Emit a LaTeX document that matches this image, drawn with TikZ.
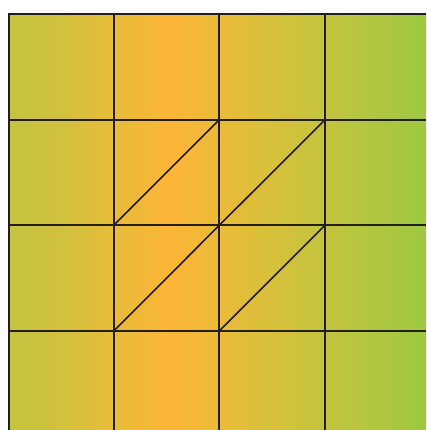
\documentclass[tikz,border=0pt]{standalone}
\usetikzlibrary{calc}
\definecolor{cA}{HTML}{C3C43F}
\definecolor{cB}{HTML}{D1C13D}
\definecolor{cC}{HTML}{FDB536}
\definecolor{cD}{HTML}{D8C03A}
\definecolor{cE}{HTML}{C2C43E}
\definecolor{cF}{HTML}{9DC842}
\definecolor{gridc}{HTML}{231F20}
\pgfdeclarehorizontalshading{bandshade}{100bp}{color(0bp)=(cA); color(25bp)=(cA); color(31.2bp)=(cB); color(44.4bp)=(cC); color(56.3bp)=(cD); color(63.5bp)=(cE); color(75bp)=(cF); color(100bp)=(cF)}
\tikzset{
  gridline/.style={draw=gridc, line width=2pt},
  diagline/.style={draw=gridc, line width=1.6pt}
}
\begin{document}
\begin{tikzpicture}[x=1pt,y=1pt]
\useasboundingbox (0,0) rectangle (426,430);
% gradient field
\shade[shading=bandshade] (8,0) rectangle (426,416);
% grid coordinates
\foreach \i/\x in {0/8.5,1/113.7,2/219.3,3/325}{
  \coordinate (vt\i) at (\x,416);
  \coordinate (vb\i) at (\x,0);
}
\foreach \j/\y in {0/415.5,1/310.3,2/204.7,3/99}{
  \coordinate (hl\j) at (8,\y);
  \coordinate (hr\j) at (426,\y);
}
\foreach \i in {0,1,2,3}{
  \draw[gridline] (vt\i) -- (vb\i);
  \draw[gridline] (hl\i) -- (hr\i);
}
% diagonal points
\coordinate (p11) at (113.7,204.7);
\coordinate (p21) at (219.3,310.3);
\coordinate (p12) at (219.3,204.7);
\coordinate (p22) at (325,310.3);
\coordinate (q11) at (113.7,99);
\coordinate (q21) at (219.3,204.7);
\coordinate (q12) at (219.3,99);
\coordinate (q22) at (325,204.7);
\draw[diagline] (p11) -- (p21);
\draw[diagline] (p12) -- (p22);
\draw[diagline] (q11) -- (q21);
\draw[diagline] (q12) -- (q22);
\end{tikzpicture}
\end{document}
